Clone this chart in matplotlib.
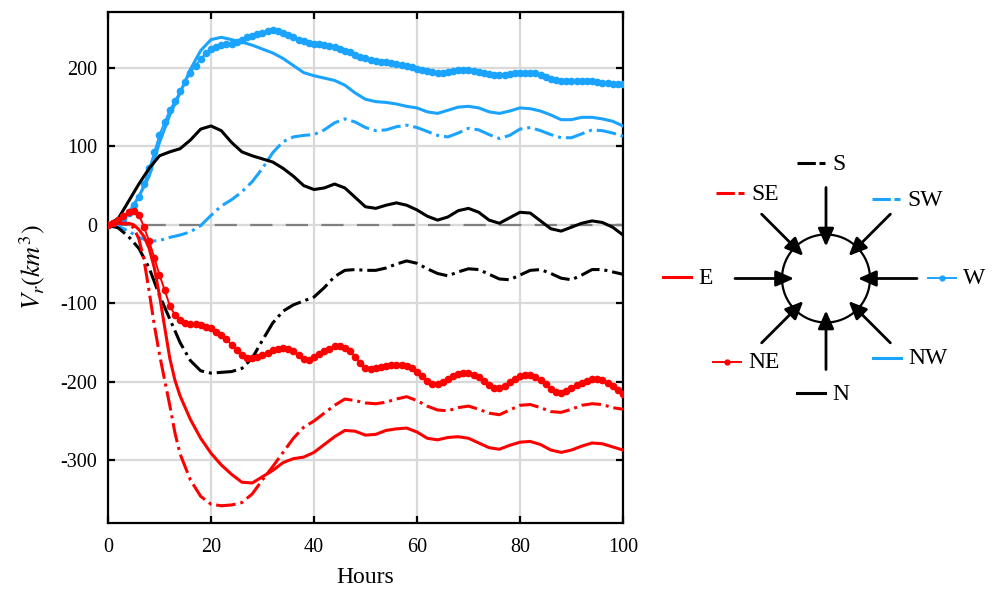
import matplotlib
matplotlib.use("Agg")
import matplotlib.pyplot as plt
from matplotlib.patches import Circle
import numpy as np

plt.rcParams['font.family'] = ['Liberation Serif', 'DejaVu Serif']
plt.rcParams['mathtext.fontset'] = 'stix'
plt.rcParams['axes.unicode_minus'] = False

BLUE = '#1aa3ff'
RED = '#ff0000'
BLACK = '#000000'

# ---- data (hours, km^3) ----
t2 = list(range(0, 101, 2))
t_fine = [0, 2, 4, 5, 6, 7, 8, 9, 10, 11, 12, 13, 14] + list(range(16, 101, 2))
t1 = list(range(0, 101))

nw = [0, 3, 15, 36, 62, 105, 140, 168, 198, 222, 236, 239, 236, 233, 229, 224, 219, 212,
      203, 194, 190, 187, 184, 178, 168, 160, 157, 156, 154, 151, 149, 144, 142, 146, 150,
      151, 149, 144, 142, 145, 149, 148, 145, 140, 134, 134, 137, 137, 135, 132, 126]

n = [0, 8, 30, 52, 72, 88, 93, 97, 108, 122, 126, 120, 105, 93, 88, 84, 80, 72, 62, 50,
     45, 47, 52, 47, 35, 23, 21, 25, 28, 25, 19, 11, 6, 10, 18, 21, 16, 6, 2, 9, 16, 15,
     5, -5, -8, -3, 2, 5, 3, -3, -13]

s = [0, -4, -15, -30, -55, -90, -120, -150, -173, -186, -189, -188, -187, -183, -170,
     -147, -125, -110, -102, -97, -92, -80, -66, -58, -57, -58, -58, -55, -50, -46, -49,
     -56, -62, -65, -60, -56, -57, -63, -69, -70, -64, -58, -57, -62, -68, -70, -64, -57,
     -57, -60, -63]

sw = [0, -2, -8, -16, -21, -20, -16, -13, -9, -1, 12, 24, 32, 42, 55, 72, 92, 106, 112,
      114, 115, 121, 130, 135, 131, 124, 120, 121, 125, 127, 124, 119, 114, 112, 117, 123,
      121, 115, 110, 114, 122, 124, 120, 115, 111, 111, 116, 121, 120, 117, 113]

e = [0, 2, 2, 0, -6, -15, -30, -55, -90, -130, -170, -198, -218, -248, -272, -291, -306,
     -318, -328, -329, -321, -313, -303, -298, -296, -290, -280, -270, -262, -263, -268,
     -267, -262, -260, -259, -264, -272, -274, -271, -270, -272, -278, -284, -286, -281,
     -277, -276, -280, -287, -290, -287, -282, -278, -279, -283, -287]

se = [0, 2, 1, -4, -18, -45, -85, -128, -165, -198, -230, -265, -292, -325, -346, -356,
      -358, -357, -354, -343, -325, -308, -290, -272, -258, -250, -240, -230, -222, -224,
      -227, -228, -226, -222, -219, -224, -231, -236, -237, -233, -231, -235, -240, -242,
      -236, -230, -229, -233, -238, -239, -235, -230, -228, -229, -233, -235]

ne = [0, 2, 6, 11, 16, 18, 13, -3, -21, -42, -64, -83, -103, -115, -121, -125, -126,
      -127, -128, -130, -132, -136, -140, -146, -153, -160, -166, -170, -170, -168, -166,
      -163, -160, -158, -157, -158, -161, -166, -171, -172, -169, -165, -161, -158, -155,
      -155, -157, -161, -168, -176, -182, -184, -183, -181, -180, -179, -178, -178, -180,
      -183, -187, -193, -199, -203, -203, -200, -197, -193, -190, -189, -189, -191, -194,
      -199, -204, -208, -208, -205, -200, -196, -193, -192, -192, -194, -198, -203, -209,
      -213, -214, -212, -208, -204, -201, -199, -197, -197, -198, -201, -206, -211, -215]

w = [0, 1, 3, 8, 15, 25, 36, 52, 72, 93, 115, 131, 146, 158, 170, 182, 194, 203, 211,
     219, 224, 227, 229, 230, 231, 233, 236, 239, 241, 243, 245, 247, 248, 247, 245, 242,
     239, 236, 234, 232, 231, 230, 229, 228, 226, 224, 222, 220, 217, 214, 212, 210, 209,
     208, 207, 206, 205, 204, 203, 201, 199, 197, 196, 195, 194, 194, 195, 196, 197, 197,
     197, 196, 195, 194, 192, 191, 191, 191, 192, 193, 194, 194, 194, 193, 191, 188, 186,
     184, 183, 183, 183, 183, 183, 183, 183, 182, 181, 181, 180, 180, 180]

x_ticks = [0, 20, 40, 60, 80, 100]
y_ticks = [-300, -200, -100, 0, 100, 200]

DASHDOT = (0, (6.4, 1.6, 1.0, 1.6))
LW = 2.2

fig = plt.figure(figsize=(9.98, 5.94), dpi=100)

# overlay in pixel coordinates for the compass legend
ov = fig.add_axes([0, 0, 1, 1], zorder=0)
ov.set_xlim(0, 998)
ov.set_ylim(594, 0)
ov.axis('off')

ax = fig.add_axes([0.1082, 0.1195, 0.516, 0.860], zorder=1)

ax.axhline(0, color='#808080', lw=1.6, linestyle=(0, (10, 6)), zorder=1)

ax.plot(t2, nw, color=BLUE, lw=LW, zorder=3)
ax.plot(t1, w, color=BLUE, lw=1.4, marker='o', markersize=4.5, zorder=3)
ax.plot(t2, sw, color=BLUE, lw=LW, linestyle=DASHDOT, zorder=3)
ax.plot(t2, n, color=BLACK, lw=LW, zorder=3)
ax.plot(t2, s, color=BLACK, lw=LW, linestyle=DASHDOT, zorder=3)
ax.plot(t_fine, e, color=RED, lw=LW, zorder=3)
ax.plot(t_fine, se, color=RED, lw=LW, linestyle=DASHDOT, zorder=3)
ax.plot(t1, ne, color=RED, lw=1.4, marker='o', markersize=4.5, zorder=3)

ax.set_xlim(0, 100)
ax.set_ylim(-380, 271)
ax.set_xticks(x_ticks)
ax.set_yticks(y_ticks)
ax.grid(True, color='#d9d9d9', lw=1.6)
ax.set_axisbelow(True)
for sp in ax.spines.values():
    sp.set_linewidth(1.6)
ax.tick_params(direction='in', top=True, right=True, length=5, width=1.6,
               labelsize=14.5)
ax.tick_params(axis='x', pad=11)
ax.tick_params(axis='y', pad=8)
ax.set_xlabel('Hours', fontsize=17, labelpad=7)
ax.set_ylabel(r'$V_r(km^3)$', fontsize=19, labelpad=9)

# ---- compass diagram ----
cx, cy = 826, 278.5
ov.add_patch(Circle((cx, cy), 44, fill=False, lw=1.6, ec='k'))
for ang in range(0, 360, 45):
    a = np.deg2rad(ang)
    ux, uy = np.cos(a), np.sin(a)
    ov.annotate('', xy=(cx + 32 * ux, cy + 32 * uy), xytext=(cx + 91 * ux, cy + 91 * uy),
                arrowprops=dict(arrowstyle='-|>,head_length=0.45,head_width=0.2',
                                lw=2, color='k', mutation_scale=24,
                                shrinkA=0, shrinkB=0))

SAMPLE_DD = (0, (6, 1.2, 2.5, 5))
entries = [
    ('S', 797, 163, BLACK, SAMPLE_DD, None),
    ('SE', 716, 193, RED, SAMPLE_DD, None),
    ('SW', 872, 199, BLUE, SAMPLE_DD, None),
    ('E', 663, 277, RED, '-', None),
    ('W', 928, 278, BLUE, '-', 'o'),
    ('NE', 713, 362, RED, '-', 'o'),
    ('NW', 873, 358, BLUE, '-', None),
    ('N', 797, 393, BLACK, '-', None),
]
for lab, x0, y0, col, ls, mk in entries:
    if mk:
        ov.plot([x0, x0 + 28], [y0, y0], color=col, lw=1.4, linestyle=ls)
        ov.plot([x0 + 14], [y0], color=col, marker=mk, markersize=3.5)
    else:
        ov.plot([x0, x0 + 28], [y0, y0], color=col, lw=2.2, linestyle=ls)
    ov.text(x0 + 35, y0 + 1, lab, fontsize=17, va='center', ha='left')

fig.savefig('out.png', dpi=100)
